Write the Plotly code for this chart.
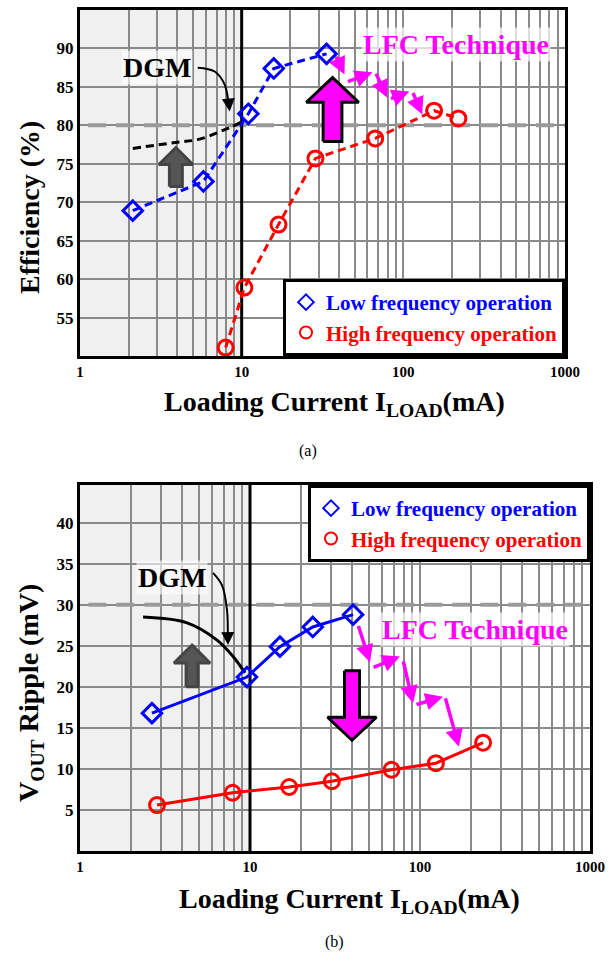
import math
import plotly.graph_objects as go

# ---------------- data: (a) efficiency ----------------
eff_low_x = [2.12, 5.8, 11.0, 15.8, 33.5]
eff_low_y = [68.9, 72.7, 81.5, 87.4, 89.3]
eff_high_x = [7.96, 10.4, 16.9, 28.6, 67, 155, 219]
eff_high_y = [51.1, 58.9, 67.1, 75.7, 78.3, 81.9, 80.9]
eff_dgm_x = [2.12, 4.0, 5.5, 8.4, 9.9]
eff_dgm_y = [77.0, 77.8, 78.2, 79.7, 80.4]
eff_ref_level = 80

# ---------------- data: (b) ripple ----------------
rip_low_x = [2.65, 9.6, 15.0, 23.4, 40.4]
rip_low_y = [16.8, 21.2, 24.9, 27.3, 28.8]
rip_high_x = [2.84, 7.9, 17, 30.3, 68, 124, 235]
rip_high_y = [5.6, 7.1, 7.8, 8.5, 9.9, 10.7, 13.2]
rip_dgm_x = [2.35, 4.26, 6.4, 7.95, 9.35]
rip_dgm_y = [28.5, 27.8, 25.7, 23.7, 21.7]
rip_ref_level = 30

# tick labels
x_decades = [1, 10, 100, 1000]
eff_yticks = [55, 60, 65, 70, 75, 80, 85, 90]
rip_yticks = [5, 10, 15, 20, 25, 30, 35, 40]
eff_yrange = [50, 95]
rip_yrange = [0, 44.6]

legend_names = ["Low frequency operation", "High frequency operation"]

BLUE = "#0000ff"
RED = "#ff0000"
MAG = "#ff00ff"
FONT = "Liberation Serif"

W, H = 616, 955
def px_x(p):
    return p / W
def px_y(p):
    return 1 - p / H

fig = go.Figure()

xtickvals = []
for d in [1, 10, 100]:
    for m in range(1, 10):
        xtickvals.append(d * m)
xtickvals.append(1000)
xticktext = [str(v) if v in x_decades else "" for v in xtickvals]

def deco_line(xa, ya, xs, ys, color, width, dash="solid"):
    fig.add_trace(go.Scatter(x=xs, y=ys, xaxis=xa, yaxis=ya, mode="lines",
                             line=dict(color=color, width=width, dash=dash),
                             showlegend=False, hoverinfo="skip"))

def add_series(xa, ya, lx, ly, hx, hy, dash, legend):
    fig.add_trace(go.Scatter(x=lx, y=ly, xaxis=xa, yaxis=ya, mode="lines+markers",
                             line=dict(color=BLUE, width=3, dash=dash),
                             marker=dict(symbol="diamond-open", size=15, color=BLUE,
                                         line=dict(width=3, color=BLUE)),
                             showlegend=False, hoverinfo="skip"))
    fig.add_trace(go.Scatter(x=hx, y=hy, xaxis=xa, yaxis=ya, mode="lines+markers",
                             line=dict(color=RED, width=3, dash=dash),
                             marker=dict(symbol="circle-open", size=15, color=RED,
                                         line=dict(width=3, color=RED)),
                             showlegend=False, hoverinfo="skip"))
    fig.add_trace(go.Scatter(x=[None], y=[None], xaxis=xa, yaxis=ya, mode="markers",
                             name=f"<span style='color:{BLUE}'>{legend_names[0]}</span>",
                             legend=legend,
                             marker=dict(symbol="diamond-open", size=16, color=BLUE,
                                         line=dict(width=3, color=BLUE))))
    fig.add_trace(go.Scatter(x=[None], y=[None], xaxis=xa, yaxis=ya, mode="markers",
                             name=f"<span style='color:{RED}'>{legend_names[1]}</span>",
                             legend=legend,
                             marker=dict(symbol="circle-open", size=16, color=RED,
                                         line=dict(width=3, color=RED))))

def block_arrow(xa, ya, cx_log, shaft_hw, head_hw, y_tail, y_base, y_tip, fill, edge):
    xs_log = [cx_log - shaft_hw, cx_log + shaft_hw, cx_log + shaft_hw, cx_log + head_hw,
              cx_log, cx_log - head_hw, cx_log - shaft_hw, cx_log - shaft_hw]
    ys = [y_tail, y_tail, y_base, y_base, y_tip, y_base, y_base, y_tail]
    fig.add_trace(go.Scatter(x=[10 ** v for v in xs_log], y=ys, xaxis=xa, yaxis=ya,
                             mode="lines", fill="toself", fillcolor=fill,
                             line=dict(color=edge, width=3), showlegend=False,
                             hoverinfo="skip"))

# reference dashed levels and thick boundary at 10 mA
deco_line("x", "y", [1.12, 1000], [eff_ref_level, eff_ref_level], "#9a9a9a", 4, "18px,10px")
deco_line("x2", "y2", [1.12, 1000], [rip_ref_level, rip_ref_level], "#9a9a9a", 4, "18px,10px")
deco_line("x", "y", [10, 10], eff_yrange, "black", 3)
deco_line("x2", "y2", [10, 10], rip_yrange, "black", 3)

# ---------- DGM curves ----------
fig.add_trace(go.Scatter(x=eff_dgm_x, y=eff_dgm_y, xaxis="x", yaxis="y", mode="lines",
                         line=dict(color="black", width=3, dash="8px,5px", shape="spline"),
                         showlegend=False, hoverinfo="skip"))
fig.add_trace(go.Scatter(x=rip_dgm_x, y=rip_dgm_y, xaxis="x2", yaxis="y2", mode="lines",
                         line=dict(color="black", width=3, shape="spline"),
                         showlegend=False, hoverinfo="skip"))

# DGM pointer curves (text -> boundary)
dgm_ptr_a = ([5.35, 6.81, 7.85, 8.3], [87.5, 87.0, 85.3, 82.6])
dgm_ptr_b = ([6.06, 6.84, 7.32, 7.4], [33.9, 32.4, 29.4, 26.0])
fig.add_trace(go.Scatter(x=dgm_ptr_a[0], y=dgm_ptr_a[1], xaxis="x", yaxis="y", mode="lines",
                         line=dict(color="black", width=2, shape="spline"),
                         showlegend=False, hoverinfo="skip"))
fig.add_trace(go.Scatter(x=dgm_ptr_b[0], y=dgm_ptr_b[1], xaxis="x2", yaxis="y2", mode="lines",
                         line=dict(color="black", width=2, shape="spline"),
                         showlegend=False, hoverinfo="skip"))

# block arrows
block_arrow("x", "y", 0.593, 0.040, 0.105, 72.05, 74.9, 77.1, "#555555", "#444444")
block_arrow("x", "y", 1.562, 0.058, 0.162, 77.9, 83.0, 86.2, MAG, "black")
block_arrow("x2", "y2", 0.659, 0.035, 0.106, 20.0, 22.9, 25.1, "#555555", "#444444")
block_arrow("x2", "y2", 1.600, 0.044, 0.144, 21.95, 16.3, 13.5, MAG, "black")

add_series("x", "y", eff_low_x, eff_low_y, eff_high_x, eff_high_y, "8px,5px", "legend")
add_series("x2", "y2", rip_low_x, rip_low_y, rip_high_x, rip_high_y, "solid", "legend2")

# ---------- axes ----------
common_x = dict(type="log", range=[0, 3], tickmode="array", tickvals=xtickvals,
                ticktext=xticktext, showgrid=True, gridcolor="#8a8a8a", gridwidth=1.5,
                showline=True, linecolor="black", linewidth=3, mirror=True, ticks="",
                tickfont=dict(family=FONT, size=15, color="black", weight="bold"),
                zeroline=False, fixedrange=True, automargin=False)
common_y = dict(showgrid=True, gridcolor="#8a8a8a", gridwidth=1.5, showline=True,
                linecolor="black", linewidth=3, mirror=True, ticks="", zeroline=False,
                tickfont=dict(family=FONT, size=17, color="black", weight="bold"),
                fixedrange=True, automargin=False)

fig.update_layout(
    width=W, height=H, autosize=False, margin=dict(l=0, r=0, t=0, b=0, pad=0),
    paper_bgcolor="white", plot_bgcolor="white",
    font=dict(family=FONT, color="black"),
    xaxis=dict(common_x, domain=[px_x(80), px_x(565)], anchor="y"),
    yaxis=dict(common_y, domain=[px_y(356), px_y(10)], range=eff_yrange,
               tickvals=eff_yticks, anchor="x"),
    xaxis2=dict(common_x, domain=[px_x(80), px_x(590)], anchor="y2"),
    yaxis2=dict(common_y, domain=[px_y(851), px_y(485)], range=rip_yrange,
                tickvals=rip_yticks, anchor="x2"),
    legend=dict(x=px_x(565), y=px_y(356), xanchor="right", yanchor="bottom",
                bgcolor="white", bordercolor="black", borderwidth=3,
                font=dict(family=FONT, size=21, weight="bold"), tracegroupgap=0,
                itemsizing="constant"),
    legend2=dict(x=px_x(590), y=px_y(485), xanchor="right", yanchor="top",
                 bgcolor="white", bordercolor="black", borderwidth=3,
                 font=dict(family=FONT, size=21, weight="bold"), tracegroupgap=0,
                 itemsizing="constant"),
    hovermode=False,
)

shapes = []
for xr, yr in [("x", "y"), ("x2", "y2")]:
    shapes.append(dict(type="rect", xref=xr, yref=yr + " domain", x0=1, x1=10, y0=0, y1=1,
                       fillcolor="#f0f0f0", line=dict(width=0), layer="below"))
fig.update_layout(shapes=shapes)

ann = []
TF = dict(family=FONT, size=28, color="black", weight="bold")
ann.append(dict(xref="paper", yref="paper", x=px_x(30), y=px_y(208), text="Efficiency (%)",
                textangle=-90, showarrow=False, xanchor="center", yanchor="middle", font=TF))
ann.append(dict(xref="paper", yref="paper", x=px_x(334), y=px_y(403),
                text="Loading Current I<sub>LOAD</sub>(mA)", showarrow=False,
                xanchor="center", yanchor="middle", font=TF))
ann.append(dict(xref="paper", yref="paper", x=px_x(30), y=px_y(693),
                text="V<sub>OUT</sub> Ripple (mV)", textangle=-90, showarrow=False,
                xanchor="center", yanchor="middle", font=TF))
ann.append(dict(xref="paper", yref="paper", x=px_x(349), y=px_y(900),
                text="Loading Current I<sub>LOAD</sub>(mA)", showarrow=False,
                xanchor="center", yanchor="middle", font=TF))
ann.append(dict(xref="paper", yref="paper", x=px_x(308), y=px_y(451), text="(a)",
                showarrow=False, xanchor="center", yanchor="middle",
                font=dict(family=FONT, size=16, color="black")))
ann.append(dict(xref="paper", yref="paper", x=px_x(335), y=px_y(942), text="(b)",
                showarrow=False, xanchor="center", yanchor="middle",
                font=dict(family=FONT, size=16, color="black")))

ann.append(dict(xref="x", yref="y", x=0.475, y=87.5, text="DGM", showarrow=False,
                bgcolor="rgba(255,255,255,0.6)", font=TF))
ann.append(dict(xref="x2", yref="y2", x=0.541, y=33.3, text="DGM", showarrow=False,
                bgcolor="rgba(255,255,255,0.6)", font=TF))
ann.append(dict(xref="x", yref="y", x=2.327, y=90.5, text="LFC Technique", showarrow=False,
                bgcolor="rgba(255,255,255,0.7)",
                font=dict(family=FONT, size=28, color=MAG, weight="bold")))
ann.append(dict(xref="x2", yref="y2", x=2.324, y=27.0, text="LFC Technique", showarrow=False,
                bgcolor="rgba(255,255,255,0.7)",
                font=dict(family=FONT, size=28, color=MAG, weight="bold")))

# DGM arrowheads
ann.append(dict(xref="x", yref="y", axref="x", ayref="y", x=math.log10(8.43), y=81.8,
                ax=math.log10(8.3), ay=83.2, text="", showarrow=True, arrowhead=2,
                arrowsize=1.3, arrowwidth=2, arrowcolor="black", standoff=0))
ann.append(dict(xref="x2", yref="y2", axref="x2", ayref="y2", x=math.log10(7.42), y=25.1,
                ax=math.log10(7.4), ay=26.6, text="", showarrow=True, arrowhead=2,
                arrowsize=1.3, arrowwidth=2, arrowcolor="black", standoff=0))

# LFC zigzag arrows (tail log10x, tail y, head log10x, head y)
zig_a = [(1.580, 89.1, 1.636, 86.6), (1.648, 85.6, 1.809, 86.9), (1.827, 86.9, 1.901, 83.6),
         (1.914, 83.4, 2.037, 84.4), (2.056, 84.4, 2.117, 81.4)]
zig_b = [(1.635, 27.6, 1.706, 23.0), (1.718, 22.3, 1.882, 23.7), (1.900, 23.3, 1.959, 18.0),
         (1.971, 17.8, 2.135, 18.8), (2.147, 18.8, 2.229, 12.7)]
for seg_list, xr, yr in [(zig_a, "x", "y"), (zig_b, "x2", "y2")]:
    for (x0, y0, x1, y1) in seg_list:
        ann.append(dict(xref=xr, yref=yr, axref=xr, ayref=yr, x=x1, y=y1, ax=x0, ay=y0,
                        text="", showarrow=True, arrowhead=2, arrowsize=1.0,
                        arrowwidth=3.5, arrowcolor=MAG, standoff=0))

fig.update_layout(annotations=ann)

fig.write_html("out.html", config={"displayModeBar": False, "responsive": False})
